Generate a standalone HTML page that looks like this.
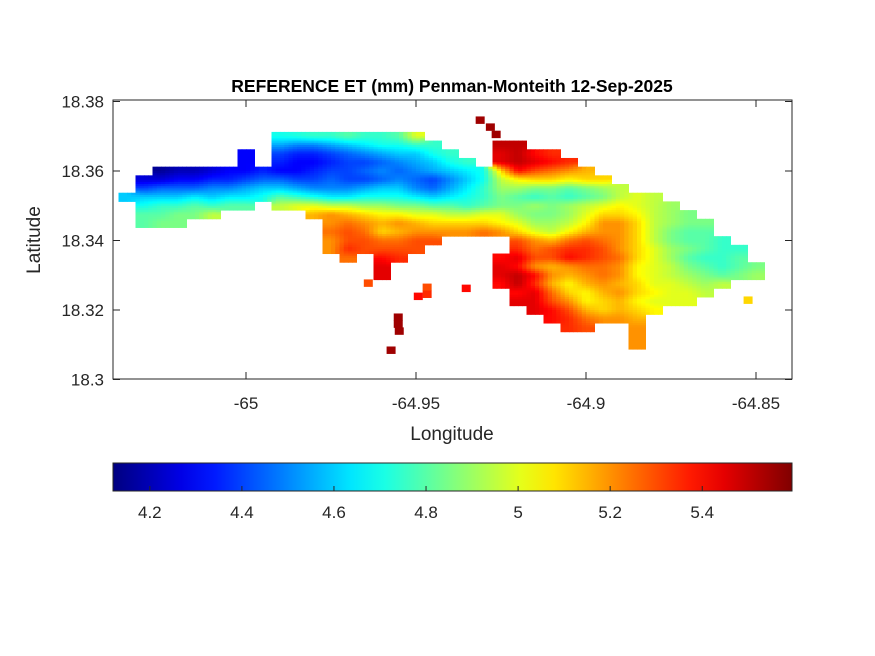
<!DOCTYPE html>
<html><head><meta charset="utf-8"><style>
html,body{margin:0;padding:0;background:#fff;}
svg{display:block;font-family:"Liberation Sans",Arial,sans-serif;}
</style></head><body>
<svg id="chart" width="875" height="656" viewBox="0 0 875 656">
<rect x="0" y="0" width="875" height="656" fill="#fff"/>
<text x="452" y="92" text-anchor="middle" font-size="17.5" font-weight="bold" fill="#000">REFERENCE ET (mm) Penman-Monteith 12-Sep-2025</text>
<defs><clipPath id="axclip"><rect x="113" y="100" width="679" height="279"/></clipPath>
<linearGradient id="jetgrad" x1="0" x2="1" y1="0" y2="0"></linearGradient></defs>
<g id="cells" clip-path="url(#axclip)"></g>
<rect x="113" y="100" width="679" height="279" fill="none" stroke="#262626" stroke-width="1"/>
<g id="xticks"></g>
<g id="yticks"></g>
<text x="452" y="440" text-anchor="middle" font-size="19" fill="#262626">Longitude</text>
<text x="0" y="0" transform="translate(40,240) rotate(-90)" text-anchor="middle" font-size="19" fill="#262626">Latitude</text>
<rect x="113" y="463" width="679" height="28" fill="url(#jetgrad)" stroke="#262626" stroke-width="1"/>
<g id="cbticks"></g>
</svg>
<script>
const lonTicks = [-65, -64.95, -64.9, -64.85];
const lonTickLabels = ["-65", "-64.95", "-64.9", "-64.85"];
const latTicks = [18.3, 18.32, 18.34, 18.36, 18.38];
const latTickLabels = ["18.3", "18.32", "18.34", "18.36", "18.38"];
const cbTicks = [4.2, 4.4, 4.6, 4.8, 5, 5.2, 5.4];
const cbTickLabels = ["4.2", "4.4", "4.6", "4.8", "5", "5.2", "5.4"];
const cMin = 4.12, cMax = 5.595;
const gridLonStart = -65.035, gridLonStep = 0.005;
const gridLatStart = 18.3725, gridLatStep = 0.0025;
const gridRows = [
 [],
 [[9,[4.7,4.72,4.75,4.75,4.8,4.75,4.75,4.8,5.0]]],
 [[9,[4.55,4.5,4.5,4.55,4.6,4.65,4.7,4.7,4.75,4.75]],[22,[5.5,5.5]]],
 [[7,[4.3]],[9,[4.4,4.35,4.35,4.4,4.45,4.5,4.55,4.6,4.6,4.7,4.75]],[22,[5.45,5.5,5.4,5.35]]],
 [[7,[4.3]],[9,[4.35,4.3,4.3,4.35,4.4,4.4,4.45,4.5,4.55,4.6,4.7,4.75]],[22,[5.45,5.5,5.45,5.4,5.35]]],
 [[2,[4.15,4.2,4.2,4.25,4.3,4.3,4.35,4.3,4.3,4.35,4.4,4.4,4.45,4.5,4.45,4.5,4.55,4.6,4.65,4.7,5.1,5.4,5.3,5.25,5.2,5.15]]],
 [[1,[4.25,4.25,4.3,4.3,4.35,4.35,4.4,4.45,4.45,4.4,4.4,4.45,4.4,4.4,4.45,4.5,4.45,4.4,4.5,4.6,4.7,4.95,5.05,5.1,5.1,5.05,5.1,5.1]]],
 [[1,[4.4,4.45,4.45,4.45,4.5,4.5,4.55,4.6,4.6,4.55,4.5,4.5,4.5,4.55,4.6,4.6,4.5,4.45,4.55,4.65,4.75,4.9,4.9,4.85,4.85,4.8,4.85,4.9,4.95]]],
 [[0,[4.6,4.6,4.6,4.6,4.65,4.6,4.65,4.65,4.7,4.8,4.75,4.7,4.65,4.65,4.7,4.7,4.7,4.65,4.6,4.65,4.7,4.75,4.85,4.8,4.75,4.8,4.75,4.8,4.85,4.95,5.0,4.95]]],
 [[1,[4.7,4.75,4.75,4.8,4.75,4.8,4.8]],[9,[4.95,5.0,5.0,4.95,4.95,4.9,4.9,4.85,4.85,4.8,4.8,4.75,4.8,4.85,4.85,4.9,4.85,4.9,4.95,5.0,5.05,5.0,4.95,4.9]]],
 [[1,[4.8,4.8,4.85,4.85,4.95]],[11,[5.15,5.2,5.15,5.1,5.05,5.05,5.0,5.0,4.95,4.95,5.0,5.0,4.9,4.85,4.85,4.9,5.0,5.1,5.1,5.05,4.95,4.9,4.85]]],
 [[1,[4.8,4.85,4.85]],[12,[5.2,5.25,5.2,5.15,5.2,5.15,5.1,5.1,5.1,5.1,5.05,5.0,4.9,4.9,4.95,5.05,5.2,5.2,5.1,4.95,4.9,4.85,4.85]]],
 [[12,[5.25,5.3,5.25,5.1,5.15,5.2,5.2,5.2,5.2,5.25,5.2,5.1,5.0,4.95,5.05,5.15,5.2,5.2,5.1,4.95,4.85,4.8,4.8]]],
 [[12,[5.2,5.3,5.3,5.25,5.25,5.3,5.3]],[23,[5.3,5.2,5.15,5.25,5.3,5.25,5.2,5.1,4.95,4.85,4.8,4.8,4.75]]],
 [[12,[5.2,5.35,5.3,5.3,5.3,5.3]],[23,[5.35,5.25,5.3,5.35,5.35,5.3,5.2,5.1,5.0,4.9,4.85,4.8,4.75,4.75]]],
 [[13,[5.25]],[15,[5.4,5.35]],[22,[5.4,5.45,5.3,5.3,5.4,5.35,5.3,5.25,5.1,5.0,4.9,4.8,4.75,4.75,4.8]]],
 [[15,[5.45]],[22,[5.45,5.4,5.2,5.15,5.2,5.25,5.25,5.2,5.05,5.0,4.95,4.85,4.8,4.75,4.8,4.85]]],
 [[15,[5.45]],[22,[5.45,5.5,5.4,5.2,5.15,5.2,5.25,5.2,5.05,5.0,4.95,4.9,4.85,4.8,4.85,4.9]]],
 [[22,[5.4,5.5,5.35,5.15,5.05,5.15,5.2,5.15,5.1,5.0,5.0,4.95,4.9,4.95]]],
 [[23,[5.4,5.45,5.25,5.1,5.05,5.15,5.2,5.1,5.05,5.0,5.0,4.95]]],
 [[23,[5.45,5.45,5.3,5.2,5.05,5.1,5.15,5.05,5.0,5.0,5.0]]],
 [[24,[5.45,5.4,5.3,5.15,5.1,5.15,5.1,5.05]]],
 [[25,[5.4,5.35,5.25,5.2,5.2,5.15]]],
 [[26,[5.35,5.3]],[30,[5.2]]],
 [[30,[5.2]]],
 [[30,[5.2]]]
];
const islandLon = [-64.9641,-64.9468,-64.9468,-64.9494,-64.9553,-64.9553,-64.9550,-64.9574,-64.9353,-64.9312,-64.9282,-64.9265,-64.8524];
const islandLat = [18.3278,18.3266,18.3246,18.3240,18.3180,18.3160,18.3140,18.3085,18.3263,18.3747,18.3727,18.3706,18.3229];
const islandVal = [5.3,5.3,5.35,5.4,5.55,5.55,5.55,5.55,5.4,5.55,5.55,5.55,5.1];

const NS = "http://www.w3.org/2000/svg";
const xScale = lon => 246 + (lon + 65) * 3400;
const yScale = lat => 171 - (lat - 18.36) * 3475;
const cbScale = v => 113 + (v - cMin) / (cMax - cMin) * 679;
function jet(v){
  let t = Math.max(0, Math.min(1, (v - cMin) / (cMax - cMin)));
  const c = x => Math.round(255 * Math.max(0, Math.min(1, x)));
  return "rgb(" + c(1.5 - Math.abs(4*t - 3)) + "," + c(1.5 - Math.abs(4*t - 2)) + "," + c(1.5 - Math.abs(4*t - 1)) + ")";
}
const cellsG = document.getElementById("cells");
function addRect(x0, y0, x1, y1, v){
  const r = document.createElementNS(NS, "rect");
  r.setAttribute("x", x0.toFixed(2));
  r.setAttribute("y", y0.toFixed(2));
  r.setAttribute("width", (x1 - x0 + 0.5).toFixed(2));
  r.setAttribute("height", (y1 - y0 + 0.5).toFixed(2));
  r.setAttribute("fill", jet(v));
  
  
  cellsG.appendChild(r);
}
// value lookup for smoothing
const valMap = {};
gridRows.forEach((segs, j) => segs.forEach(seg => seg[1].forEach((v, k) => { valMap[j + "," + (seg[0] + k)] = v; })));
function getV(j, i){ const v = valMap[j + "," + i]; return v === undefined ? null : v; }
const SUB = 4;
gridRows.forEach((segs, j) => {
  segs.forEach(seg => {
    seg[1].forEach((v, k) => {
      const i = seg[0] + k;
      for (let a = 0; a < SUB; a++) {
        for (let b = 0; b < SUB; b++) {
          const fx = (a + 0.5) / SUB - 0.5, fy = (b + 0.5) / SUB - 0.5;
          const ni = fx < 0 ? i - 1 : i + 1, nj = fy < 0 ? j - 1 : j + 1;
          const wx = Math.abs(fx), wy = Math.abs(fy);
          const pts = [[j, i, (1-wx)*(1-wy)], [j, ni, wx*(1-wy)], [nj, i, (1-wx)*wy], [nj, ni, wx*wy]];
          let s = 0, w = 0;
          pts.forEach(p => { const q = getV(p[0], p[1]); if (q !== null) { s += q * p[2]; w += p[2]; } });
          const val = w > 0 ? s / w : v;
          const lon0 = gridLonStart + gridLonStep * (i - 0.5 + a / SUB);
          const lat0 = gridLatStart - gridLatStep * (j - 0.5 + b / SUB);
          addRect(xScale(lon0), yScale(lat0), xScale(lon0 + gridLonStep / SUB), yScale(lat0 - gridLatStep / SUB), val);
        }
      }
    });
  });
});
islandVal.forEach((v, i) => addRect(xScale(islandLon[i] - 0.00125), yScale(islandLat[i] + 0.001), xScale(islandLon[i] + 0.00125), yScale(islandLat[i] - 0.001), v));

function addLine(g, x1, y1, x2, y2){
  const l = document.createElementNS(NS, "line");
  l.setAttribute("x1", x1); l.setAttribute("y1", y1); l.setAttribute("x2", x2); l.setAttribute("y2", y2);
  l.setAttribute("stroke", "#262626"); l.setAttribute("stroke-width", "1");
  
  
  g.appendChild(l);
}
function addText(g, x, y, s, anchor, name){
  const t = document.createElementNS(NS, "text");
  t.setAttribute("x", x); t.setAttribute("y", y);
  t.setAttribute("text-anchor", anchor); t.setAttribute("font-size", "17"); t.setAttribute("fill", "#262626");
  t.textContent = s;
  
  
  g.appendChild(t);
}
const xg = document.getElementById("xticks");
lonTicks.forEach((v, i) => {
  const x = xScale(v);
  addLine(xg, x, 379, x, 372); addLine(xg, x, 100, x, 107);
  addText(xg, x, 409, lonTickLabels[i], "middle", "x-tick-label");
});
const yg = document.getElementById("yticks");
latTicks.forEach((v, i) => {
  const y = yScale(v);
  addLine(yg, 113, y, 120, y); addLine(yg, 792, y, 785, y);
  addText(yg, 104, y + 6, latTickLabels[i], "end", "y-tick-label");
});
const grad = document.getElementById("jetgrad");
for (let k = 0; k <= 20; k++){
  const s = document.createElementNS(NS, "stop");
  s.setAttribute("offset", (k/20*100) + "%");
  s.setAttribute("stop-color", jet(cMin + (cMax - cMin) * k / 20));
  grad.appendChild(s);
}
const cg = document.getElementById("cbticks");
cbTicks.forEach((v, i) => {
  const x = cbScale(v);
  addLine(cg, x, 491, x, 486);
  addText(cg, x, 518, cbTickLabels[i], "middle", "colorbar-tick-label");
});
</script>
</body></html>
